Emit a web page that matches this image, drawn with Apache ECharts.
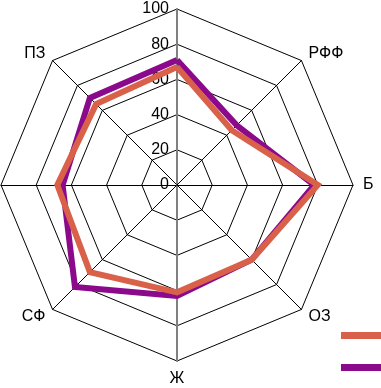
<!DOCTYPE html>
<html>
<head>
<meta charset="utf-8">
<script src="https://cdn.jsdelivr.net/npm/echarts@6/dist/echarts.min.js"></script>
<style>
  html, body { margin: 0; padding: 0; background: #fff; }
  #chart { width: 381px; height: 388px; }
</style>
</head>
<body>
<div id="chart"></div>
<script>
// axes, counterclockwise from the top
const axisNames = ["", "ПЗ", "", "СФ", "Ж", "ОЗ", "Б", "РФФ"];
const seriesOrange = [67, 65, 68, 70, 61, 60, 80, 44];
const seriesPurple = [71, 70, 65, 82, 63, 60, 78, 48];
const axisMax = 100;

const chart = echarts.init(document.getElementById("chart"));

const thinLine = { lineStyle: { color: "#000", width: 1 } };
const grayLine = { lineStyle: { color: "#808080", width: 2 } };

const indicator = axisNames.map((name, i) => {
  const item = { name: name, min: 0, max: axisMax };
  // vertical axis is gray and carries the tick labels
  if (i === 0) {
    item.axisLine = grayLine;
    item.axisLabel = { show: true };
  }
  if (i === 4) {
    item.axisLine = grayLine;
  }
  return item;
});

chart.setOption({
  animation: false,
  backgroundColor: "#fff",
  textStyle: { fontFamily: "Liberation Sans Narrow, Arial Narrow, sans-serif" },
  legend: {
    orient: "vertical",
    left: 336,
    top: 327,
    itemWidth: 45,
    itemHeight: 7,
    itemGap: 25,
    icon: "rect",
    formatter: () => "",
    data: ["a", "b"],
  },
  radar: {
    center: [177, 185],
    radius: 176,
    shape: "polygon",
    splitNumber: 5,
    startAngle: 90,
    nameGap: 10,
    indicator: indicator,
    axisName: {
      color: "#000",
      fontSize: 16,
      fontFamily: "Liberation Sans Narrow, Arial Narrow, sans-serif",
    },
    axisLine: thinLine,
    splitLine: thinLine,
    splitArea: { show: false },
    axisTick: { show: false },
    axisLabel: {
      show: false,
      color: "#000",
      fontSize: 16,
      margin: 8,
      fontFamily: "Liberation Sans Narrow, Arial Narrow, sans-serif",
    },
  },
  series: [
    {
      type: "radar",
      symbol: "none",
      data: [
        {
          name: "b",
          value: seriesPurple,
          lineStyle: { color: "#8b0a8b", width: 6, join: "miter" },
          itemStyle: { color: "#8b0a8b" },
        },
        {
          name: "a",
          value: seriesOrange,
          lineStyle: { color: "#d9614a", width: 6, join: "miter" },
          itemStyle: { color: "#d9614a" },
        },
      ],
    },
  ],
});
</script>
</body>
</html>
